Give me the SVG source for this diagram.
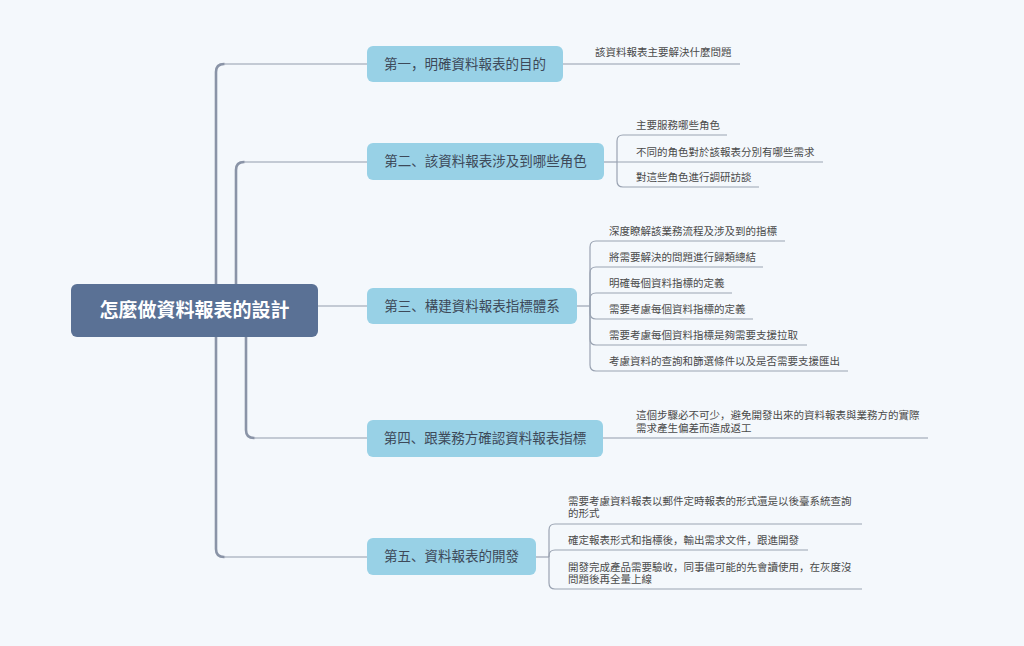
<svg xmlns="http://www.w3.org/2000/svg" width="1024" height="646" viewBox="0 0 1024 646">
<style>
.bg{fill:#f4f8fc}
.trunk{fill:none;stroke:#8a94a7;stroke-width:2.6;stroke-linecap:round}
.hline{fill:none;stroke:#b3bbc7;stroke-width:1.6}
.sub{fill:none;stroke:#9aa3b2;stroke-width:1.2}
.root{fill:#5a7195}
.box{fill:#98d1e6}
.rt{font-family:"Liberation Sans","Noto Sans CJK SC",sans-serif;font-size:19px;font-weight:bold;fill:#ffffff;text-anchor:middle}
.bt{font-family:"Liberation Sans","Noto Sans CJK SC",sans-serif;font-size:13.5px;fill:#3d4959;text-anchor:middle}
.ct{font-family:"Liberation Sans","Noto Sans CJK SC",sans-serif;font-size:10.5px;fill:#4a4a4a}
</style>
<rect class="bg" x="0" y="0" width="1024" height="646"/>
<g id="connectors">
  <path class="trunk" d="M216,300 V72 Q216,64 224,64"/>
  <path class="hline" d="M224,64 H367"/>
  <path class="trunk" d="M236,300 V170 Q236,162 244,162"/>
  <path class="hline" d="M244,162 H367"/>
  <path class="hline" d="M318,306 H367"/>
  <path class="trunk" d="M246,320 V430 Q246,438 254,438"/>
  <path class="hline" d="M254,438 H367"/>
  <path class="trunk" d="M216,320 V549 Q216,557 224,557"/>
  <path class="hline" d="M224,557 H367"/>
  <!-- branch 1 child -->
  <path class="hline" d="M563,64 H740"/>
  <!-- branch 2 children -->
  <path class="sub" d="M604,162 H617"/>
  <path class="sub" d="M617,162 V141 Q617,135 623,135 H727"/>
  <path class="sub" d="M617,162 H823"/>
  <path class="sub" d="M617,162 V181 Q617,187 623,187 H759"/>
  <!-- branch 3 children -->
  <path class="sub" d="M577,306 H590"/>
  <path class="sub" d="M590,306 V247 Q590,241 596,241 H785"/>
  <path class="sub" d="M590,306 V273 Q590,267 596,267 H763"/>
  <path class="sub" d="M590,306 V299 Q590,293 596,293 H732"/>
  <path class="sub" d="M590,306 V313 Q590,319 596,319 H753"/>
  <path class="sub" d="M590,306 V339 Q590,345 596,345 H807"/>
  <path class="sub" d="M590,306 V365 Q590,371 596,371 H848"/>
  <!-- branch 4 child -->
  <path class="hline" d="M603,438 H928"/>
  <!-- branch 5 children -->
  <path class="sub" d="M536,557 H549"/>
  <path class="sub" d="M549,557 V530 Q549,524 555,524 H862"/>
  <path class="sub" d="M549,557 V556 Q549,550 555,550 H808"/>
  <path class="sub" d="M549,557 V583 Q549,589 555,589 H862"/>
</g>
<g id="root">
  <rect class="root" x="71" y="284" width="247" height="53" rx="6"/>
  <text class="rt" x="194.5" y="317">怎麼做資料報表的設計</text>
</g>
<g id="b1">
  <rect class="box" x="367" y="46" width="196" height="36" rx="6"/>
  <text class="bt" x="465" y="68.7">第一，明確資料報表的目的</text>
</g>
<g id="b1c1"><text class="ct" x="595" y="55.7">該資料報表主要解決什麼問題</text></g>
<g id="b2">
  <rect class="box" x="367" y="143" width="237" height="37" rx="6"/>
  <text class="bt" x="485.5" y="166.4">第二、該資料報表涉及到哪些角色</text>
</g>
<g id="b2c1"><text class="ct" x="636" y="129.3">主要服務哪些角色</text></g>
<g id="b2c2"><text class="ct" x="636" y="155.7">不同的角色對於該報表分別有哪些需求</text></g>
<g id="b2c3"><text class="ct" x="636" y="181.3">對這些角色進行調研訪談</text></g>
<g id="b3">
  <rect class="box" x="367" y="288" width="210" height="36" rx="6"/>
  <text class="bt" x="472" y="310.7">第三、構建資料報表指標體系</text>
</g>
<g id="b3c1"><text class="ct" x="609" y="234.7">深度瞭解該業務流程及涉及到的指標</text></g>
<g id="b3c2"><text class="ct" x="609" y="260.7">將需要解決的問題進行歸類總結</text></g>
<g id="b3c3"><text class="ct" x="609" y="286.7">明確每個資料指標的定義</text></g>
<g id="b3c4"><text class="ct" x="609" y="312.7">需要考慮每個資料指標的定義</text></g>
<g id="b3c5"><text class="ct" x="609" y="338.7">需要考慮每個資料指標是夠需要支援拉取</text></g>
<g id="b3c6"><text class="ct" x="609" y="364.7">考慮資料的查詢和篩選條件以及是否需要支援匯出</text></g>
<g id="b4">
  <rect class="box" x="367" y="420" width="236" height="37" rx="6"/>
  <text class="bt" x="485" y="443">第四、跟業務方確認資料報表指標</text>
</g>
<g id="b4c1">
  <text class="ct" x="636" y="418.7">這個步驟必不可少，避免開發出來的資料報表與業務方的實際</text>
  <text class="ct" x="636" y="431.7">需求產生偏差而造成返工</text>
</g>
<g id="b5">
  <rect class="box" x="367" y="538" width="169" height="37" rx="6"/>
  <text class="bt" x="451.5" y="561.2">第五、資料報表的開發</text>
</g>
<g id="b5c1">
  <text class="ct" x="568" y="504.7">需要考慮資料報表以郵件定時報表的形式還是以後臺系統查詢</text>
  <text class="ct" x="568" y="517.2">的形式</text>
</g>
<g id="b5c2"><text class="ct" x="568" y="543.7">確定報表形式和指標後，輸出需求文件，跟進開發</text></g>
<g id="b5c3">
  <text class="ct" x="568" y="570.7">開發完成產品需要驗收，同事儘可能的先會讀使用，在灰度沒</text>
  <text class="ct" x="568" y="583.2">問題後再全量上線</text>
</g>
</svg>
